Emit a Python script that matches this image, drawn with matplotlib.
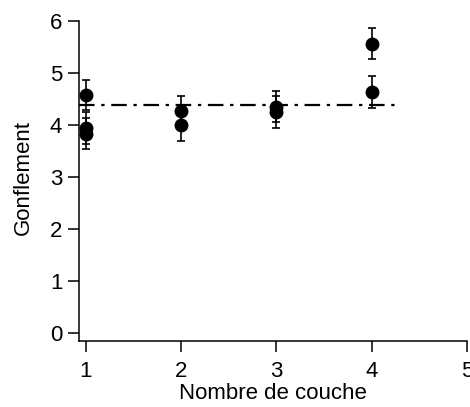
import matplotlib
matplotlib.use("Agg")
import matplotlib.pyplot as plt

plt.rcParams['font.family'] = ['Liberation Sans', 'DejaVu Sans']

couches = [1, 1, 1, 2, 2, 3, 3, 4, 4]
gonflement = [4.58, 3.94, 3.83, 4.27, 4.00, 4.35, 4.25, 5.56, 4.63]
erreurs = [0.29, 0.30, 0.30, 0.29, 0.30, 0.30, 0.30, 0.30, 0.30]
moyenne = 4.38
moyenne_x = [0.93, 4.26]
xticks = [1, 2, 3, 4, 5]
yticks = [0, 1, 2, 3, 4, 5, 6]

fig = plt.figure(figsize=(4.70, 4.07), dpi=100)
ax = fig.add_axes([0.168, 0.162, 0.9936 - 0.168, 0.949 - 0.162])

ax.plot(moyenne_x, [moyenne, moyenne], color='black', linestyle=(0, (7, 3, 1.5, 3)), linewidth=1.6, zorder=1)
ax.errorbar(couches, gonflement, yerr=erreurs, fmt='o', color='black', markersize=9,
            elinewidth=1.2, capsize=3.0, capthick=1.2, zorder=2)

ax.set_xlim(0.927, 5.0)
ax.set_ylim(-0.15, 6.0)
ax.set_xticks(xticks)
ax.set_yticks(yticks)
ax.spines['top'].set_visible(False)
ax.spines['right'].set_visible(False)
for s in ('left', 'bottom'):
    ax.spines[s].set_linewidth(1.1)
ax.tick_params(axis='both', direction='out', length=8, width=1.1, labelsize=16)
ax.tick_params(axis='y', pad=4)
ax.tick_params(axis='x', pad=6)
ax.set_xlabel('Nombre de couche', fontsize=16, labelpad=1)
ax.set_ylabel('Gonflement', fontsize=16)
ax.yaxis.set_label_coords(-0.116, 0.51)

fig.savefig('out.png', dpi=100)
